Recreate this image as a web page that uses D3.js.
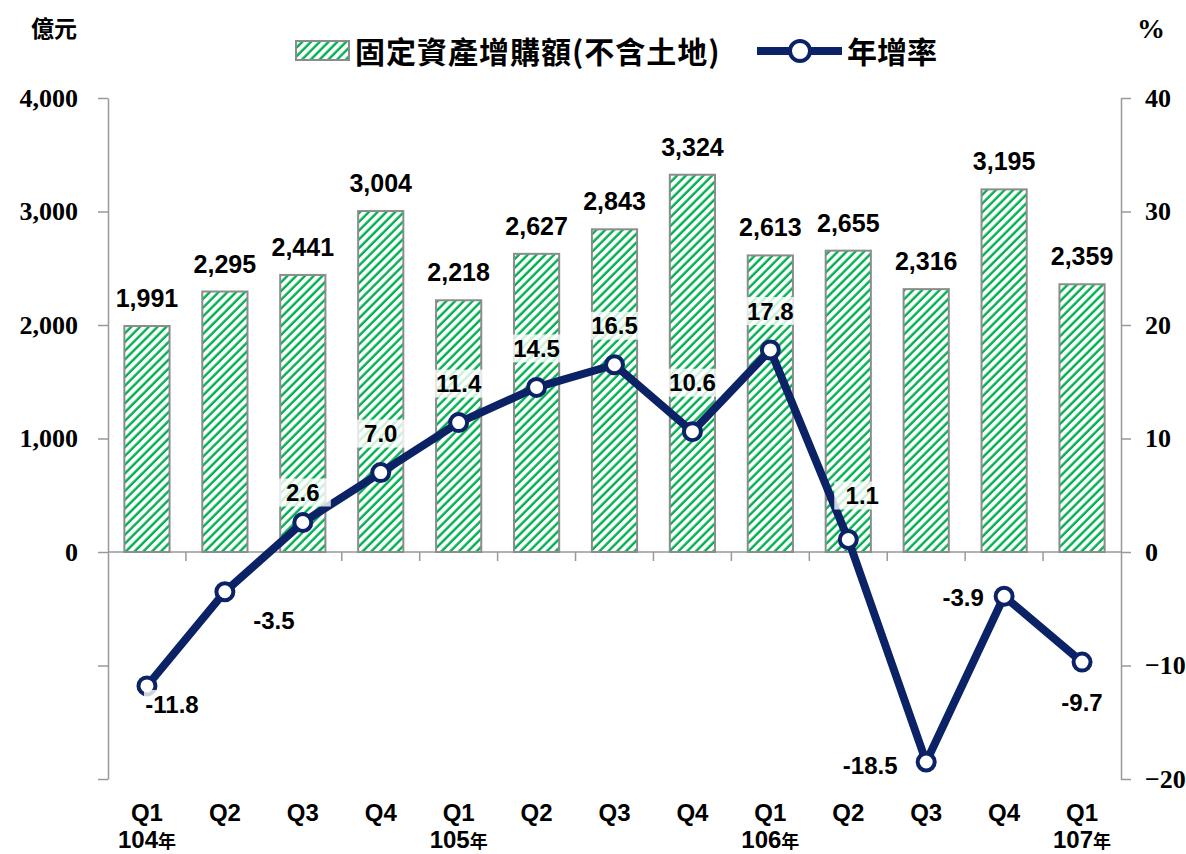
<!DOCTYPE html>
<html lang="zh-Hant">
<head>
<meta charset="UTF-8">
<title>固定資產增購額</title>
<script src="https://cdn.jsdelivr.net/npm/d3@7/dist/d3.min.js"></script>
<style>
  body { margin: 0; background: #fff; }
</style>
</head>
<body>
<div class="chart"></div>
<script>
  const quarters = ['Q1', 'Q2', 'Q3', 'Q4', 'Q1', 'Q2', 'Q3', 'Q4', 'Q1', 'Q2', 'Q3', 'Q4', 'Q1']
  const years = ['104', '', '', '', '105', '', '', '', '106', '', '', '', '107']
  const amounts = [1991, 2295, 2441, 3004, 2218, 2627, 2843, 3324, 2613, 2655, 2316, 3195, 2359]
  const growth = [-11.8, -3.5, 2.6, 7.0, 11.4, 14.5, 16.5, 10.6, 17.8, 1.1, -18.5, -3.9, -9.7]
  const leftTicks = [-2000, -1000, 0, 1000, 2000, 3000, 4000]
  const rightTicks = [-20, -10, 0, 10, 20, 30, 40]
  // where each growth label sits relative to its point
  const growthLabelPos = ['br', 'br2', 't2', 't', 't', 't', 't', 't3', 't', 'tr', 'l', 'l2', 'b']

  const SERIF = '"Liberation Serif", "Times New Roman", serif'
  const SANS = '"Liberation Sans", Arial, sans-serif'
  const CJK = '"Noto Sans CJK TC", "Noto Sans CJK SC", sans-serif'

  const width = 1186
  const height = 854
  const margin = { top: 98, right: 65, bottom: 75, left: 108 }
  const navy = '#0b2266'
  const axisGray = '#999'

  const svg = d3.select('.chart').append('svg')
    .attr('width', width)
    .attr('height', height)

  const defs = svg.append('defs')
  const pat = defs.append('pattern')
    .attr('id', 'hatch')
    .attr('patternUnits', 'userSpaceOnUse')
    .attr('width', 6.2)
    .attr('height', 6.2)
    .attr('patternTransform', 'rotate(45)')
  pat.append('rect').attr('width', 6.2).attr('height', 6.2).attr('fill', '#fff')
  pat.append('line')
    .attr('x1', 1.5).attr('y1', 0).attr('x2', 1.5).attr('y2', 6.2)
    .attr('stroke', '#00b050').attr('stroke-width', 2.4)

  const idx = d3.range(quarters.length)
  const x = d3.scaleBand().domain(idx).range([margin.left, width - margin.right]).padding(0)
  const yL = d3.scaleLinear().domain([-2000, 4000]).range([height - margin.bottom, margin.top])
  const yR = d3.scaleLinear().domain([-20, 40]).range([height - margin.bottom, margin.top])
  const cx = i => x(i) + x.bandwidth() / 2
  const barW = x.bandwidth() * 0.58

  // left axis
  const gL = svg.append('g')
    .attr('transform', `translate(${margin.left},0)`)
    .call(d3.axisLeft(yL).tickValues(leftTicks).tickSize(10).tickSizeOuter(0)
      .tickFormat(d => d >= 0 ? d3.format(',')(d) : ''))
  gL.selectAll('path, line').attr('stroke', axisGray).attr('stroke-width', 1.5)
  gL.selectAll('text')
    .style('font-family', SERIF).style('font-weight', 'bold').style('font-size', '26px')
    .attr('fill', '#000').attr('x', -30)

  // right axis
  const gR = svg.append('g')
    .attr('transform', `translate(${width - margin.right},0)`)
    .call(d3.axisRight(yR).tickValues(rightTicks).tickSize(10).tickSizeOuter(0))
  gR.selectAll('path, line').attr('stroke', axisGray).attr('stroke-width', 1.5)
  gR.selectAll('text')
    .style('font-family', SERIF).style('font-weight', 'bold').style('font-size', '26px')
    .attr('fill', '#000').attr('x', 24)

  // category axis along zero
  const y0 = yL(0)
  svg.append('line')
    .attr('x1', margin.left).attr('x2', width - margin.right)
    .attr('y1', y0).attr('y2', y0)
    .attr('stroke', axisGray).attr('stroke-width', 1.5)
  svg.selectAll('.ctick').data(idx.slice(1)).enter().append('line')
    .attr('x1', i => x(i)).attr('x2', i => x(i))
    .attr('y1', y0).attr('y2', y0 + 9)
    .attr('stroke', axisGray).attr('stroke-width', 1.5)

  // bars
  svg.selectAll('.bar').data(amounts).enter().append('rect')
    .attr('x', (d, i) => cx(i) - barW / 2)
    .attr('y', d => yL(d))
    .attr('width', barW)
    .attr('height', d => yL(0) - yL(d))
    .attr('fill', 'url(#hatch)')
    .attr('stroke', '#8c8c8c')
    .attr('stroke-width', 2)

  svg.selectAll('.barlabel').data(amounts).enter().append('text')
    .attr('x', (d, i) => cx(i))
    .attr('y', d => yL(d) - 19)
    .attr('text-anchor', 'middle')
    .style('font-family', SANS).style('font-weight', 'bold').style('font-size', '25px')
    .text(d => d3.format(',')(d))

  // growth line
  const line = d3.line().x((d, i) => cx(i)).y(d => yR(d))
  svg.append('path')
    .datum(growth)
    .attr('d', line)
    .attr('fill', 'none')
    .attr('stroke', navy)
    .attr('stroke-width', 8)
    .attr('stroke-linejoin', 'round')

  svg.selectAll('.pt').data(growth).enter().append('circle')
    .attr('cx', (d, i) => cx(i))
    .attr('cy', d => yR(d))
    .attr('r', 8.5)
    .attr('fill', '#fff')
    .attr('stroke', navy)
    .attr('stroke-width', 4)

  const offs = {
    t: [0, -39], t2: [0, -30], t3: [0, -49], b: [0, 40],
    br: [25, 18], br2: [49, 29], tr: [14, -44], l: [-56, 3], l2: [-41, 1]
  }
  const gLab = svg.selectAll('.glabel').data(growth).enter().append('g')
    .attr('transform', (d, i) => {
      const o = offs[growthLabelPos[i]]
      return `translate(${cx(i) + o[0]},${yR(d) + o[1]})`
    })
  gLab.append('rect')
    .attr('x', -28).attr('y', -14).attr('width', 56).attr('height', 28)
    .attr('fill', '#fff').attr('opacity', 0.8)
  gLab.append('text')
    .attr('text-anchor', 'middle')
    .attr('dy', '0.36em')
    .style('font-family', SANS).style('font-weight', 'bold').style('font-size', '24px')
    .text(d => d.toFixed(1))

  // category labels
  svg.selectAll('.qlabel').data(quarters).enter().append('text')
    .attr('x', (d, i) => cx(i))
    .attr('y', 821)
    .attr('text-anchor', 'middle')
    .style('font-family', SANS).style('font-weight', 'bold').style('font-size', '24px')
    .text(d => d)
  const yrs = svg.selectAll('.ylabel').data(years).enter().append('text')
    .attr('x', (d, i) => cx(i))
    .attr('y', 848)
    .attr('text-anchor', 'middle')
  yrs.append('tspan')
    .style('font-family', SANS).style('font-weight', 'bold').style('font-size', '24px')
    .text(d => d)
  yrs.append('tspan')
    .style('font-family', CJK).style('font-weight', 'bold').style('font-size', '18px')
    .text(d => d ? '年' : '')

  // unit labels
  svg.append('text').attr('x', 54).attr('y', 37).attr('text-anchor', 'middle')
    .style('font-family', CJK).style('font-weight', 'bold').style('font-size', '23px')
    .text('億元')
  svg.append('text').attr('x', 1151).attr('y', 38).attr('text-anchor', 'middle')
    .style('font-family', SERIF).style('font-weight', 'bold').style('font-size', '28px')
    .text('%')

  // legend
  const lg = svg.append('g')
  lg.append('rect').attr('x', 296).attr('y', 41).attr('width', 53).attr('height', 19)
    .attr('fill', 'url(#hatch)').attr('stroke', '#8c8c8c').attr('stroke-width', 2)
  lg.append('text').attr('x', 355).attr('y', 63)
    .style('font-family', CJK).style('font-weight', 'bold').style('font-size', '30px')
    .style('letter-spacing', '1px')
    .text('固定資產增購額(不含土地)')
  lg.append('line').attr('x1', 757).attr('x2', 842).attr('y1', 51).attr('y2', 51)
    .attr('stroke', navy).attr('stroke-width', 8)
  lg.append('circle').attr('cx', 800).attr('cy', 51).attr('r', 10)
    .attr('fill', '#fff').attr('stroke', navy).attr('stroke-width', 4)
  lg.append('text').attr('x', 847).attr('y', 63)
    .style('font-family', CJK).style('font-weight', 'bold').style('font-size', '30px')
    .text('年增率')
</script>
</body>
</html>
